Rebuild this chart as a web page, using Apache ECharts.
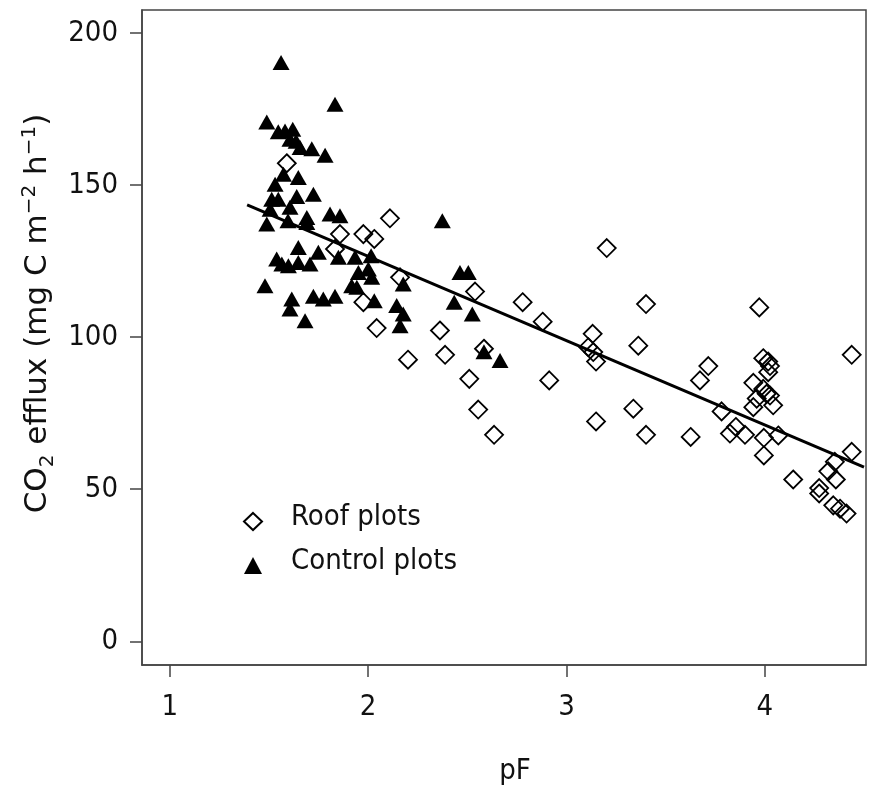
<!DOCTYPE html>
<html>
<head>
<meta charset="utf-8">
<script src="https://cdn.jsdelivr.net/npm/echarts@6.0.0/dist/echarts.min.js"></script>
<style>
html,body{margin:0;padding:0;background:#fff;}
#chart{width:880px;height:789px;}
</style>
</head>
<body>
<div id="chart"></div>
<script>
// ---- Data ----
var xTicks = [1, 2, 3, 4];
var yTicks = [0, 50, 100, 150, 200];

var roofPF = [1.590,1.858,1.833,1.976,2.031,2.110,2.161,1.976,2.043,2.201,2.362,2.388,2.539,2.584,2.510,2.555,2.635,2.779,2.880,2.913,3.203,3.132,3.110,3.135,3.149,3.149,3.337,3.401,3.362,3.401,3.972,4.438,3.715,3.673,3.992,4.017,4.026,4.017,3.942,3.992,4.026,4.042,3.959,3.942,4.009,3.782,3.626,3.854,3.824,3.900,3.995,4.068,3.995,4.143,4.438,4.353,4.320,4.358,4.274,4.274,4.345,4.379,4.412];
var roofCO2 = [157.2,133.9,129.0,133.9,132.3,139.1,119.7,111.5,103.0,92.6,102.2,94.2,115.0,96.2,86.3,76.2,67.9,111.5,105.1,85.8,129.3,101.1,96.7,95.1,92.0,72.3,76.5,110.9,97.2,67.9,109.8,94.2,90.5,85.8,93.1,92.0,90.5,88.5,85.0,83.0,80.8,77.6,79.8,77.0,81.4,75.6,67.2,70.5,68.3,67.9,66.9,67.7,61.1,53.2,62.3,59.0,55.9,53.2,50.4,48.6,44.7,43.6,42.0];

var controlPF = [1.561,1.489,1.833,1.547,1.581,1.620,1.606,1.637,1.657,1.716,1.783,1.573,1.648,1.531,1.640,1.724,1.514,1.547,1.606,1.506,1.691,1.808,1.858,1.489,1.596,1.691,1.648,1.749,1.539,1.565,1.598,1.648,1.707,1.850,1.934,1.951,1.917,1.480,1.615,1.606,1.724,1.774,1.833,1.682,2.374,2.015,2.001,2.018,2.177,1.943,2.031,2.144,2.177,2.161,2.463,2.505,2.434,2.525,2.584,2.665];
var controlCO2 = [190.3,170.8,176.6,167.6,167.8,168.4,165.1,164.4,162.4,162.0,159.8,153.6,152.5,150.3,146.3,147.0,145.4,145.4,142.7,142.1,139.4,140.5,139.9,137.2,138.3,137.7,129.5,127.9,125.7,124.1,123.5,124.6,124.1,126.3,126.3,121.3,116.9,116.9,112.6,109.3,113.5,112.6,113.5,105.4,138.3,126.8,122.4,119.7,117.5,116.4,112.0,110.4,107.6,103.8,121.3,121.3,111.5,107.6,95.2,92.3];

var fitPF = [1.39, 4.50];
var fitCO2 = [143.5, 57.3];

// ---- build ----
function pairs(xs, ys){ return xs.map(function(x,i){ return [x, ys[i]]; }); }

var FONT = '"DejaVu Sans Condensed", "Liberation Sans", sans-serif';
var TFONT = '"DejaVu Sans", Verdana, sans-serif';
var TXT = '#111';
var AX = '#444';
var FS = 29;

var chart = echarts.init(document.getElementById('chart'), null, {renderer:'canvas'});
chart.setOption({
  animation: false,
  backgroundColor: '#fff',
  textStyle: {fontFamily: FONT, color: TXT},
  grid: {left: 142, top: 10, width: 724, height: 655, show: true, borderColor: AX, borderWidth: 1.5, containLabel: false, outerBoundsMode: 'none'},
  legend: {
    orient: 'vertical', left: 238, top: 498, itemWidth: 18, itemHeight: 17, itemGap: 15,
    data: [{name:'Roof plots', icon:'diamond'}, {name:'Control plots', icon:'triangle'}],
    formatter: function(n){ return '{t|' + n + '}'; },
    textStyle: {fontFamily: FONT, color: TXT, fontSize: FS, rich: {t: {fontSize: FS, fontFamily: FONT, color: TXT, padding: [0,0,8,24]}}}
  },
  xAxis: {
    type: 'value', min: 0.86, max: 4.51,
    name: 'pF', nameLocation: 'middle', nameGap: 92,
    nameTextStyle: {fontFamily: FONT, fontSize: FS, color: TXT, padding: [0,0,0,22]},
    axisLine: {show: true, onZero: false, lineStyle: {color: AX, width: 1.5}},
    axisTick: {show: true, length: 12, customValues: xTicks, lineStyle: {color: AX, width: 1.5}},
    axisLabel: {customValues: xTicks, margin: 28, fontFamily: FONT, fontSize: FS, color: TXT},
    splitLine: {show: false}
  },
  yAxis: {
    type: 'value', min: -7.8, max: 207.6,
    name: '{a|CO}{s|2}{a| efflux (mg C m}{u|−2}{a| h}{u|−1}{a|)}',
    nameLocation: 'middle', nameGap: 84, nameRotate: 90,
    nameTextStyle: {
      fontFamily: TFONT, fontSize: 31, color: TXT, padding: [0,0,0,48],
      rich: {
        a: {fontFamily: TFONT, fontSize: 31, color: TXT, lineHeight: 38},
        s: {fontFamily: TFONT, fontSize: 20, color: TXT, lineHeight: 38, verticalAlign: 'bottom', padding: [13,0,0,0]},
        u: {fontFamily: TFONT, fontSize: 20, color: TXT, lineHeight: 38, verticalAlign: 'top', padding: [0,0,13,0]}
      }
    },
    axisLine: {show: true, onZero: false, lineStyle: {color: AX, width: 1.5}},
    axisTick: {show: true, length: 12, customValues: yTicks, lineStyle: {color: AX, width: 1.5}},
    axisLabel: {customValues: yTicks, margin: 24, fontFamily: FONT, fontSize: FS, color: TXT},
    splitLine: {show: false}
  },
  series: [
    {
      name: 'Roof plots', type: 'scatter', symbol: 'diamond', symbolSize: 18, z: 2,
      itemStyle: {color: 'rgba(255,255,255,0)', borderColor: '#000', borderWidth: 1.8, opacity: 1},
      data: pairs(roofPF, roofCO2)
    },
    {
      name: 'Control plots', type: 'scatter', symbol: 'triangle', symbolSize: [17, 15], z: 3,
      itemStyle: {color: '#000', opacity: 1},
      data: pairs(controlPF, controlCO2)
    },
    {
      name: 'fit', type: 'line', symbol: 'none', z: 4,
      lineStyle: {color: '#000', width: 3},
      data: pairs(fitPF, fitCO2)
    }
  ]
});
</script>
</body>
</html>
